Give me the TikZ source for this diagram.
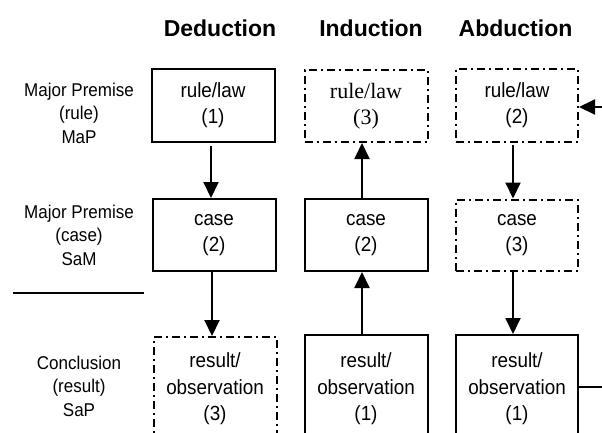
\documentclass[tikz,border=0pt]{standalone}
\usepackage{fontspec}
\setmainfont{Liberation Sans}[FakeStretch=0.92]
\newfontfamily\hdrfont{Liberation Sans}
\newfontfamily\serifrm{Liberation Serif}
\usetikzlibrary{arrows.meta}
\tikzset{
  box/.style={draw, line width=2pt, inner sep=0pt, align=center, minimum width=123pt,
    font=\fontsize{20.5}{26.5}\selectfont},
  dbox/.style={box, dash pattern=on 8pt off 4pt on 2pt off 4pt},
  lbl/.style={align=center, inner sep=0pt, font=\fontsize{18.5}{23.5}\selectfont},
  hdr/.style={anchor=base, inner sep=0pt, font=\hdrfont\bfseries\fontsize{23}{28}\selectfont},
  arr/.style={line width=2pt, -{Triangle[length=16pt,width=15pt]}},
  ln/.style={line width=2pt}
}
\begin{document}
\begin{tikzpicture}[x=1pt,y=-1pt]
\useasboundingbox (0,0) rectangle (602,432);
\clip (0,0) rectangle (602,432);
\fill[white] (0,0) rectangle (602,432);
% headers
\node[hdr] (hd) at (220,36) {Deduction};
\node[hdr] (hi) at (371,36) {Induction};
\node[hdr] (ha) at (515.5,36) {Abduction};
% row labels
\node[lbl] (l1) at (79,113) {Major Premise\\(rule)\\MaP};
\node[lbl] (l2) at (79,235) {Major Premise\\(case)\\SaM};
\node[lbl] (l3) at (79,386) {Conclusion\\(result)\\SaP};
\coordinate (sl) at (13,293);
\coordinate (sr) at (144,293);
\draw[ln] (sl) -- (sr);
% deduction
\node[box, minimum height=73pt] (dr) at (213,105) {rule/law\\(1)};
\node[box, minimum height=72pt] (dc) at (214,235) {case\\(2)};
\node[dbox, minimum height=104pt] (dres) at (215,389) {result/\\observation\\(3)};
\draw[arr, shorten <=3pt] ([xshift=-2pt]dr.south) -- ([xshift=-2pt]dr.south |- dc.north);
\draw[arr] ([xshift=-2pt]dc.south) -- ([xshift=-2pt]dc.south |- dres.north);
% induction
\node[dbox, minimum height=72pt, font=\serifrm\fontsize{22}{26}\selectfont] (ir) at (366,106) {rule/law\\(3)};
\node[box, minimum height=72pt] (ic) at (366,235) {case\\(2)};
\node[box, minimum height=108pt] (ires) at (366,389) {result/\\observation\\(1)};
\draw[arr] ([xshift=-4pt]ires.north) -- ([xshift=-4pt]ic.south);
\draw[arr] ([xshift=-4pt]ic.north) -- ([xshift=-4pt]ir.south);
% abduction
\node[dbox, minimum height=73pt, minimum width=122pt] (ar) at (517,105) {rule/law\\(2)};
\node[dbox, minimum height=71pt, minimum width=122pt] (ac) at (517,235) {case\\(3)};
\node[box, minimum height=108pt, minimum width=122pt] (ares) at (517,389) {result/\\observation\\(1)};
\draw[arr, shorten <=2pt] ([xshift=-4pt]ar.south) -- ([xshift=-4pt]ac.north);
\draw[arr] ([xshift=-4pt]ac.south) -- ([xshift=-4pt]ares.north);
\coordinate (ain) at (602,107);
\coordinate (aout) at (602,387);
\draw[arr] (ain) -- (ain -| ar.east);
\draw[ln] (aout -| ares.east) -- (aout);
\end{tikzpicture}
\end{document}
